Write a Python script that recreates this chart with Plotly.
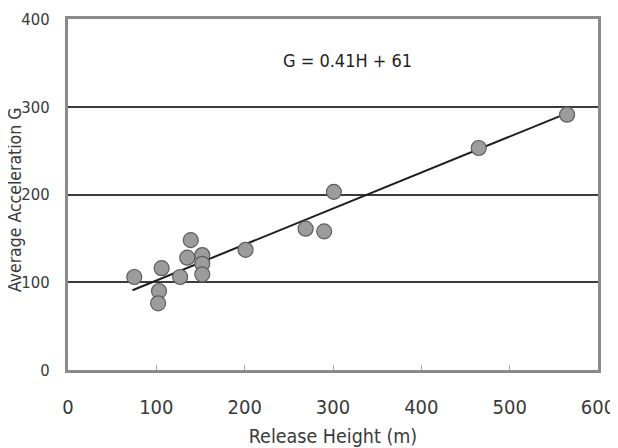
import plotly.graph_objects as go

# Data
release_height = [75, 106, 103, 102, 127, 135, 139, 152, 152, 152, 201, 269, 290, 301, 465, 565]
avg_accel = [106, 116, 90, 76, 106, 128, 148, 131, 121, 109, 137, 161, 158, 203, 253, 291]
fit_slope = 0.41
fit_intercept = 61
fit_range = [73, 566]
x_ticks = [0, 100, 200, 300, 400, 500, 600]
y_ticks = [0, 100, 200, 300, 400]
equation_text = "G = 0.41H + 61"
x_title = "Release Height (m)"
y_title = "Average Acceleration G"

fit_y = [fit_slope * h + fit_intercept for h in fit_range]

FONT = "DejaVu Sans Condensed, DejaVu Sans, sans-serif"
TEXT = "#3a3a3a"

# the page body has an 8px margin, so the figure is sized to fit inside the window
W, H = 610, 440
L, R, T, B = 60, 20, 11, 78

fig = go.Figure()
fig.add_trace(go.Scatter(
    x=fit_range, y=fit_y, mode="lines",
    line=dict(color="#1e1e1e", width=2), showlegend=False, hoverinfo="skip"))
fig.add_trace(go.Scatter(
    x=release_height, y=avg_accel, mode="markers",
    marker=dict(size=15, color="#9c9c9c", line=dict(color="#5e5e5e", width=1.2)),
    showlegend=False))

fig.add_annotation(x=316, y=353, xref="x", yref="y", text=equation_text,
                   showarrow=False, font=dict(family=FONT, size=18, color="#222222"))

# rotated y-axis title placed just left of the tick labels, as in the reference
fig.add_annotation(x=0, y=0.484, xref="paper", yref="paper", text=y_title,
                   textangle=-90, showarrow=False, xanchor="center", yanchor="middle",
                   xshift=-53, font=dict(family=FONT, size=17.5, color=TEXT))

fig.update_layout(
    width=W, height=H,
    margin=dict(l=L, r=R, t=T, b=B),
    paper_bgcolor="white", plot_bgcolor="white",
    font=dict(family=FONT, size=17, color=TEXT),
    xaxis=dict(range=[0, 600], tickvals=x_ticks, showgrid=False, zeroline=False,
               showline=True, linecolor="#8a8a8a", linewidth=3, mirror=True,
               ticks="inside", ticklen=5, tickcolor="#aaaaaa", tickwidth=1,
               ticklabelstandoff=17, tickfont=dict(size=20),
               automargin=False,
               title=dict(text=x_title, standoff=15, font=dict(size=19.5))),
    yaxis=dict(range=[0, 400], tickvals=y_ticks, showgrid=True, gridcolor="#3c3c3c",
               gridwidth=1.6, zeroline=False,
               showline=True, linecolor="#8a8a8a", linewidth=3, mirror=True,
               ticks="", ticklabelstandoff=12, tickfont=dict(size=16.5),
               automargin=False),
)

fig.write_html("out.html")
